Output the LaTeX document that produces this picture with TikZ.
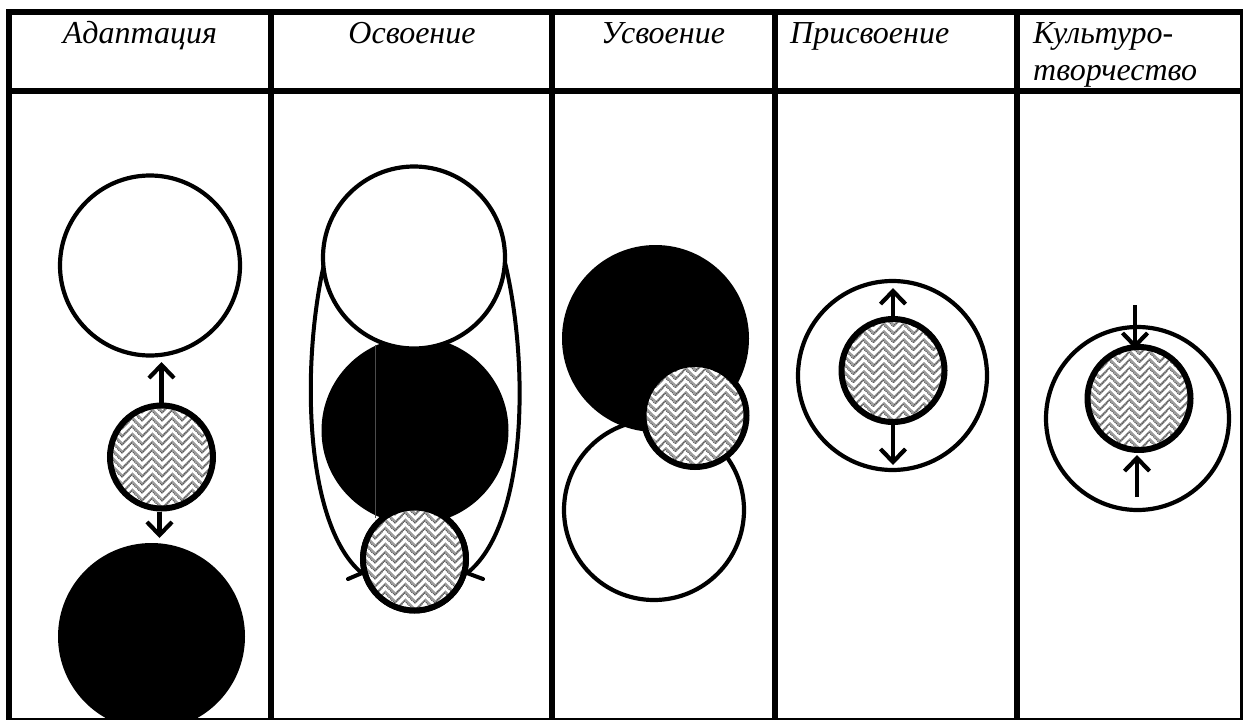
\documentclass[tikz,border=0pt]{standalone}
\usepackage{fontspec}
\setmainfont{Liberation Serif}
\usetikzlibrary{arrows.meta}
\definecolor{hatchbase}{gray}{0.62}
\newcommand{\herring}{%
  \fill[hatchbase] (path picture bounding box.south west) rectangle (path picture bounding box.north east);
  \begin{scope}[shift={(path picture bounding box.center)},x=1pt,y=1pt]
    \foreach \r in {-9,...,9}{
      \foreach \c in {-4,...,4}{
        \draw[white,line width=3pt,line cap=butt]
          ({\c*20},{\r*8}) -- ++(11,11);
        \draw[white,line width=3pt,line cap=butt]
          ({\c*20+9.5},{\r*8+12.5}) -- ++(10.5,-10.5);
        \draw[black!75,line width=.8pt,dash pattern=on 1pt off 1pt]
          ({\c*20},{\r*8+4}) -- ++(10,10) -- ++(10,-10);
      }
    }
  \end{scope}
}
\tikzset{
  x=1pt,y=-1pt,
  gridline/.style={line width=6pt,black},
  thinrule/.style={line width=2.5pt,black},
  whitecirc/.style={circle,draw=black,fill=white,line width=4.2pt,inner sep=0pt,minimum size=#1},
  blackcirc/.style={circle,fill=black,inner sep=0pt,outer sep=0pt,minimum size=#1},
  hatchcirc/.style={circle,draw=black,fill=white,line width=6pt,inner sep=0pt,minimum size=103pt,path picture={\herring}},
  arr/.style={line width=4.4pt,-{Straight Barb[length=13pt,width=25pt,line width=4.2pt]}},
  curve/.style={line width=4pt,black},
  title/.style={font=\fontsize{32}{32}\selectfont\itshape,inner sep=0pt,anchor=base}
}
\begin{document}
\begin{tikzpicture}
\useasboundingbox (0,0) rectangle (1243,720);
\fill[white] (0,0) rectangle (1243,720);
% column 1
\node[whitecirc=180pt] (w1) at (150,265.5) {};
\node[blackcirc=187pt] (b1) at (151.5,636.5) {};
\node[hatchcirc] (h1) at (161.5,457) {};
\coordinate (t1a) at (161.5,362);
\coordinate (t1b) at (159.5,538);
\draw[arr] (h1.north) -- (t1a);
\draw[arr] ([xshift=-2pt]h1.south) -- (t1b);
% column 2
\node[blackcirc=187pt] (b2) at (415,430.5) {};
\draw[black!70,line width=.6pt] (375,345) -- (375,518);
\node[hatchcirc] (h2) at (414.5,559) {};
\coordinate (s2l) at (335,225);
\coordinate (s2r) at (494,225);
\coordinate (b2l) at (348,579);
\coordinate (b2r) at (483,579);
\draw[curve] (s2l) .. controls (300,325) and (298,520) .. (h2.195);
\draw[curve] (s2r) .. controls (530,325) and (534,520) .. (h2.-15);
\draw[curve,line cap=round] (h2.195) -- (b2l);
\draw[curve,line cap=round] (h2.-15) -- (b2r);
\node[whitecirc=182pt] (w2) at (414,257.5) {};
\node[hatchcirc] (h2b) at (414.5,559) {};
% column 3
\node[whitecirc=180pt] (w3) at (654,510) {};
\node[blackcirc=187pt] (b3) at (655.5,338.5) {};
\node[hatchcirc] (h3) at (695,415.5) {};
% column 4
\node[whitecirc=189pt] (w4) at (892.5,375.5) {};
\node[hatchcirc] (h4) at (893,370.5) {};
\coordinate (u4) at (893,288);
\coordinate (d4) at (893,465);
\draw[arr] (h4.north) -- (u4);
\draw[arr] (h4.south) -- (d4);
% column 5
\node[whitecirc=183pt] (w5) at (1137.5,418.5) {};
\node[hatchcirc] (h5) at (1139,398.5) {};
\coordinate (a5) at (1135,305);
\coordinate (c5) at (1137,497);
\coordinate (n5) at (1135,349);
\coordinate (s5) at (1137,455);
\draw[arr] (a5) -- (n5);
\draw[arr] (c5) -- (s5);
% grid
\draw[gridline] (6,12) -- (1243,12);
\draw[gridline] (6,91) -- (1243,91);
\draw[thinrule] (6,719) -- (1243,719);
\draw[gridline] (9,9) -- (9,720);
\draw[gridline] (271,9) -- (271,720);
\draw[gridline] (552,9) -- (552,720);
\draw[gridline] (775,9) -- (775,720);
\draw[gridline] (1017,9) -- (1017,720);
\draw[line width=3pt] (1241.5,9) -- (1241.5,720);
% titles
\node[title] (t1) at (140,43) {Адаптация};
\node[title] (t2) at (412,43) {Освоение};
\node[title] (t3) at (663,43) {Усвоение};
\node[title,anchor=base west] (t4) at (790,43) {Присвоение};
\node[title,anchor=base west] (t5a) at (1033,43) {Культуро-};
\node[title,anchor=base west] (t5b) at (1033,80) {творчество};
\end{tikzpicture}
\end{document}
